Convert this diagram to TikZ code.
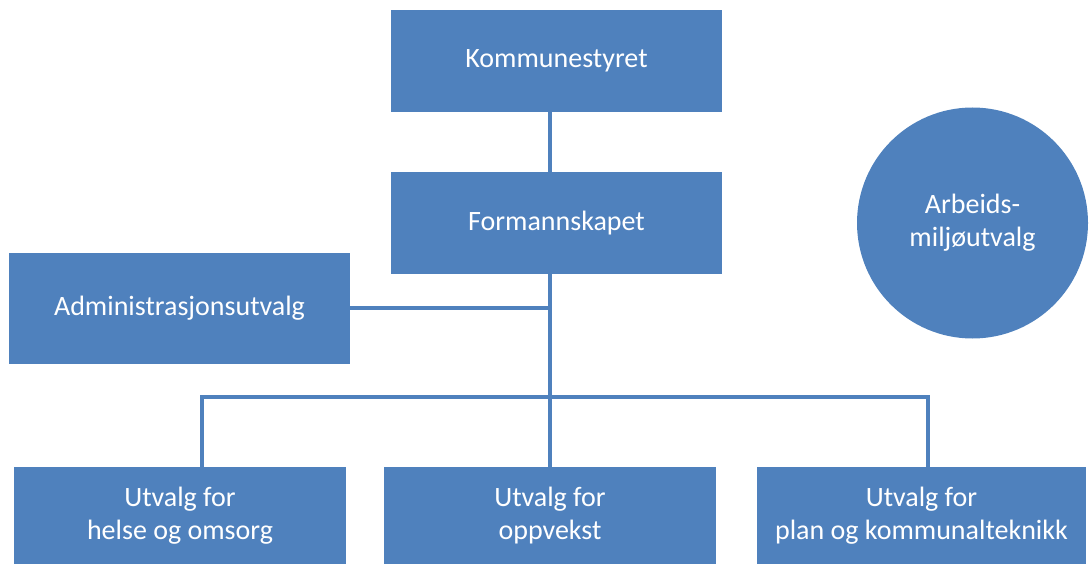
\documentclass[tikz,border=0pt]{standalone}
\usepackage{fontspec}
\setmainfont{Carlito}
\definecolor{orgblue}{HTML}{4F81BD}
\begin{document}
\begin{tikzpicture}[x=1pt,y=-1pt,
  unit/.style={draw=none,fill=orgblue,text=white,inner sep=0pt,align=center,
    font=\fontsize{28}{33}\selectfont},
  wire/.style={draw=orgblue,line width=4pt}]
\useasboundingbox (0,0) rectangle (1090,564);
% top of the hierarchy
\node[unit,minimum width=331,minimum height=102] (k) at (556.5,61) {Kommunestyret};
\node[unit,minimum width=331,minimum height=102] (f) at (556.5,223) {Formannskapet};
\node[unit,minimum width=341,minimum height=111] (a) at (179.5,308.5) {Administrasjonsutvalg};
\node[unit,circle,minimum size=231] (m) at (972.5,223) {Arbeids-\\miljøutvalg};
% committees
\node[unit,minimum width=332,minimum height=97] (h) at (180,515.5) {Utvalg for\\helse og omsorg};
\node[unit,minimum width=332,minimum height=97] (o) at (550,515.5) {Utvalg for\\oppvekst};
\node[unit,minimum width=329,minimum height=97] (p) at (921.5,515.5) {Utvalg for\\plan og kommunalteknikk};
% junction points of the connector tree
\coordinate (hub) at (550,397);
\coordinate (busL) at (202,397);
\coordinate (busR) at (928,397);
\coordinate (adm) at (550,308);
\begin{scope}[on background layer/.try]
\draw[wire] (k.south -| hub) -- (f.north -| hub);
\draw[wire] (f.south -| hub) -- (hub) -- (o.north -| hub);
\draw[wire] (a.east |- adm) -- (adm);
\draw[wire] (h.north -| busL) -- (busL) -- (busR) -- (p.north -| busR);
\end{scope}
\end{tikzpicture}
\end{document}
